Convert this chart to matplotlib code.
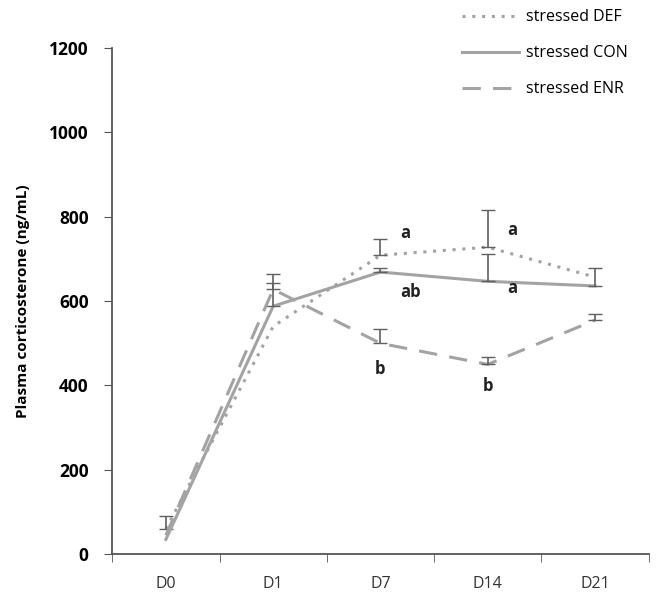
import matplotlib.pyplot as plt
from matplotlib.lines import Line2D
import numpy as np

days = ["D0", "D1", "D7", "D14", "D21"]

# means and (upward) SEM
def_mean = [60, 540, 709, 728, 657]
def_err = [30, 0, 38, 88, 0]
con_mean = [35, 588, 669, 647, 636]
con_err = [0, 76, 9, 64, 42]
enr_mean = [45, 628, 500, 450, 555]
enr_err = [0, 14, 34, 17, 14]

# significance letters per day: (day index, value, text)
letters_day = [2, 2, 2, 3, 3, 3]
letters_val = [762, 622, 440, 768, 632, 398]
letters_txt = ["a", "ab", "b", "a", "a", "b"]
letters_dx = [0.18, 0.18, 0.0, 0.18, 0.18, 0.0]

plt.rcParams['font.family'] = ['Open Sans', 'DejaVu Sans']

fig = plt.figure(figsize=(6.64, 6.09), dpi=100)
ax = fig.add_axes([0.169, 0.090, 0.808, 0.831])

x = np.arange(len(days))
grey = "#a3a3a3"
styles = [(0, (1, 2.2)), "-", (0, (6, 4))]
names = ["stressed DEF", "stressed CON", "stressed ENR"]
series = [(def_mean, def_err), (con_mean, con_err), (enr_mean, enr_err)]

for (m, e), ls in zip(series, styles):
    m = np.array(m)
    e = np.array(e)
    ax.plot(x, m, color=grey, ls=ls, lw=2.2)
    k = e > 0
    ax.errorbar(x[k], m[k], yerr=[np.zeros(k.sum()), e[k]], fmt="none",
                ecolor="#606060", elinewidth=1.2, capsize=5)

for d, v, t, dx in zip(letters_day, letters_val, letters_txt, letters_dx):
    ax.text(d + dx, v, t, fontsize=12, fontweight="bold", ha="left" if dx else "center",
            va="center", color="#222222")

ax.set_xlim(-0.5, 4.5)
ax.set_ylim(0, 1200)
ax.set_yticks(range(0, 1201, 200))
ax.set_xticks(x)
ax.set_xticklabels(days, fontsize=11.5, color="#333333")
ax.set_xticks(np.arange(-0.5, 4.6, 1), minor=True)
ax.tick_params(axis="x", which="major", length=0, pad=16)
ax.tick_params(axis="x", which="minor", length=6, direction="out", color="#555555")
ax.tick_params(axis="y", length=6, direction="out", color="#555555", labelsize=12.5, pad=11)
for lbl in ax.get_yticklabels():
    lbl.set_fontweight("bold")
ax.set_ylabel("Plasma corticosterone (ng/mL)", fontsize=11, fontweight="bold", labelpad=14)

for s in ["top", "right"]:
    ax.spines[s].set_visible(False)
for s in ["left", "bottom"]:
    ax.spines[s].set_color("#555555")
    ax.spines[s].set_linewidth(1.3)

handles = [Line2D([0], [0], color=grey, ls=ls, lw=2.2) for ls in styles]
leg = ax.legend(handles, names, loc="upper left", bbox_to_anchor=(0.625, 1.105), frameon=False,
                fontsize=11.5, handlelength=3.6, handletextpad=0.4, labelspacing=1.25)

fig.savefig("out.png", dpi=100)
